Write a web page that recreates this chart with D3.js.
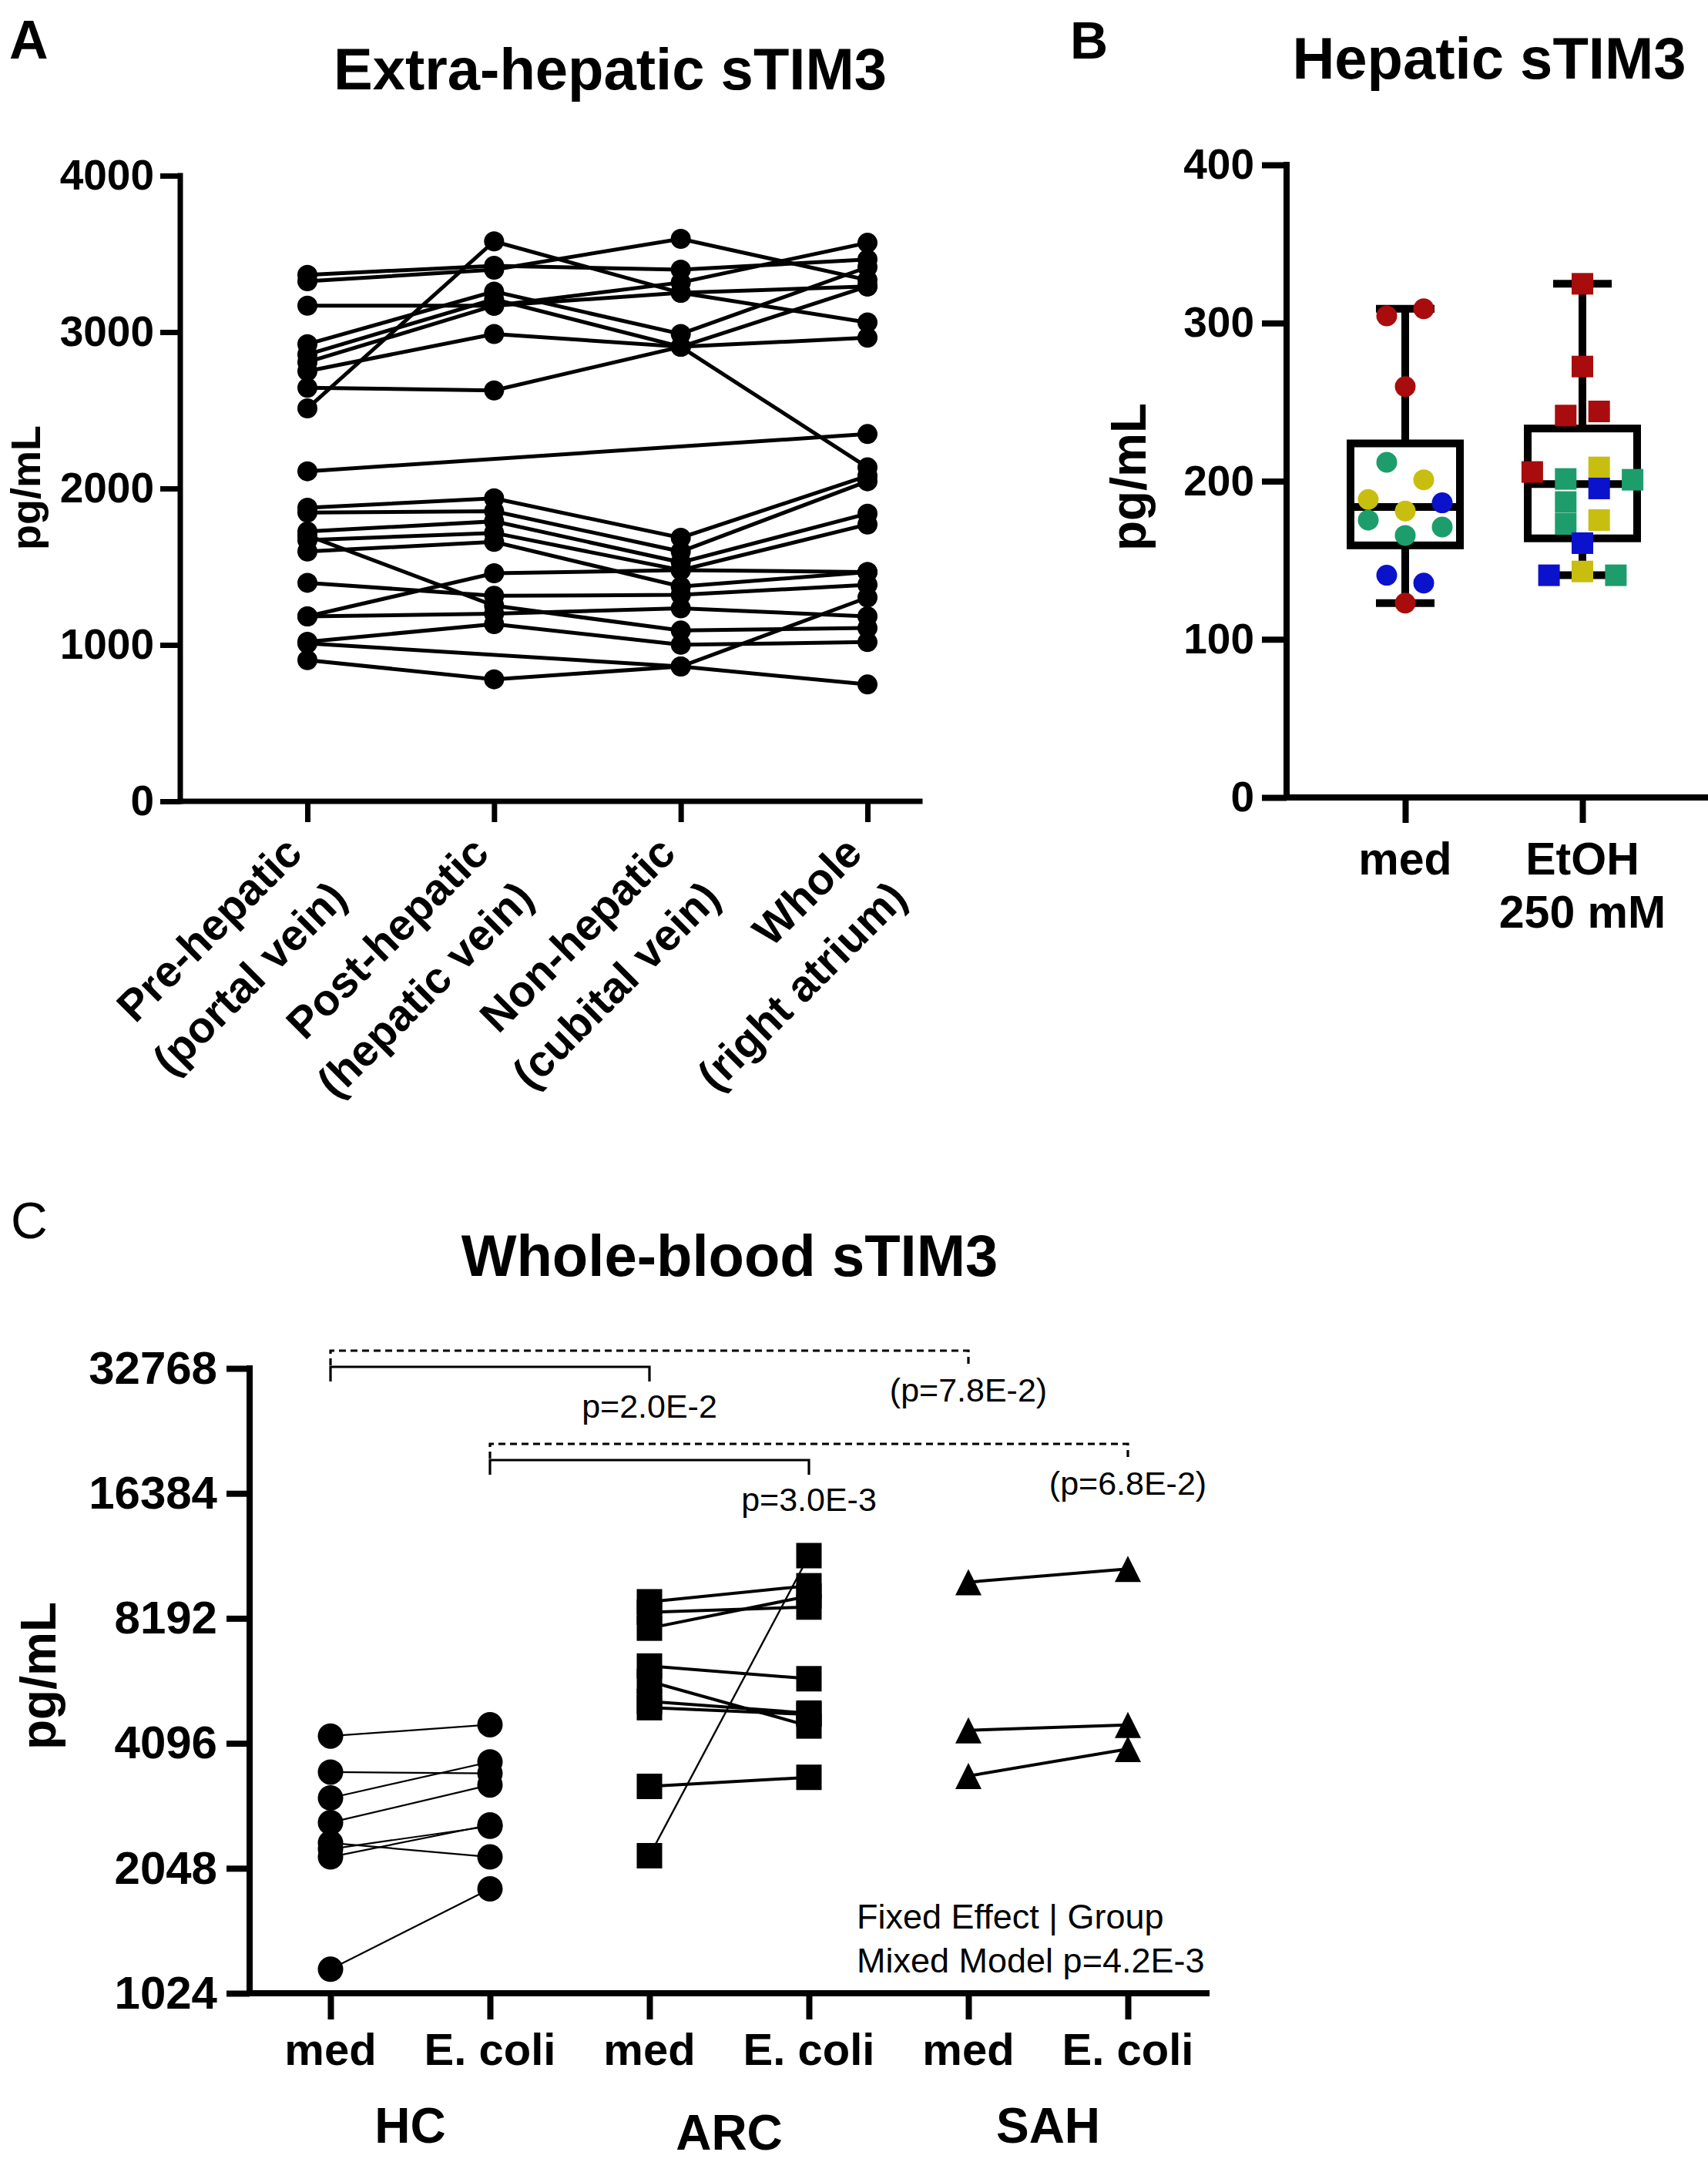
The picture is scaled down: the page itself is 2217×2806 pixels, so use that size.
<!DOCTYPE html>
<html>
<head>
<meta charset="utf-8">
<script src="https://cdn.jsdelivr.net/npm/d3@7"></script>
<style>
  body { margin: 0; background: #fff; }
  svg { display: block; font-family: Arial, "Liberation Sans", sans-serif; }
</style>
</head>
<body>
<svg id="fig" width="2217" height="2806"></svg>
<script>
// ---- Panel A data: extra-hepatic sTIM3 per patient, 4 sampling sites (null = not measured)
const siteNames = [["Pre-hepatic", "(portal vein)"], ["Post-hepatic", "(hepatic vein)"],
                   ["Non-hepatic", "(cubital vein)"], ["Whole", "(right atrium)"]];
const extraTicks = [0, 1000, 2000, 3000, 4000];
const extraHepatic = [
  [3366, 3424, 3399, 3464],
  [3325, 3399, 3596, 3333],
  [2512, 3580, 3251, 3062],
  [3169, 3169, 3317, 3571],
  [2923, 3259, 2988, 3415],
  [2857, 3210, 2906, 2135],
  [2808, 3169, 3251, 3292],
  [2750, 2988, 2906, 2964],
  [2644, 2627, 2906, 3292],
  [2110, null, null, 2348],
  [1877, 1937, 1685, 2081],
  [1846, 1855, 1597, 2046],
  [1725, 1790, 1528, 1839],
  [1670, 1716, 1478, 1770],
  [1597, 1659, 1373, 1466],
  [1700, 1251, 1092, 1108],
  [1397, 1314, 1320, 1384],
  [1182, 1458, 1478, 1466],
  [1182, 1200, 1234, 1182],
  [1020, 1133, 1001, 1018],
  [1010, null, 862, 747],
  [903, 780, 862, 1303]
];

// ---- Panel B data: hepatic sTIM3, donor index per value (0 red, 1 yellow, 2 green, 3 blue)
const hepaticGroups = [["med"], ["EtOH", "250 mM"]];
const hepaticTicks = [0, 100, 200, 300, 400];
const medValues = [304.5, 309, 259.8, 211.9, 200.9, 188.4, 181.1, 186.3, 175.4, 165.7, 171, 140.5, 135.6, 122.9];
const medDonor  = [0, 0, 0, 2, 1, 1, 1, 3, 2, 2, 2, 3, 3, 0];
const etohValues = [324.8, 272.5, 241.5, 244.1, 205.8, 201.4, 208.7, 200.9, 186.8, 195.4, 173, 175.4, 160.8, 140.5, 142.9, 140.5];
const etohDonor  = [0, 0, 0, 0, 0, 2, 1, 2, 2, 3, 2, 1, 3, 3, 1, 2];

// ---- Panel C data: whole-blood sTIM3, [med, E. coli] pairs
const wbConditions = ["med", "E. coli"];
const wbGroups = ["HC", "ARC", "SAH"];
const wbTicks = [1024, 2048, 4096, 8192, 16384, 32768];
const hcPairs  = [[4264, 4542], [3492, 3467], [3025, 3694], [2640, 3251], [2358, 2181], [2279, 2586], [2181, 2605], [1170, 1827]];
const arcPairs = [[8979, 9814], [8473, 8721], [7758, 9271], [6288, 5860], [5773, 4509], [5169, 4843], [4992, 4808], [3226, 3392], [2196, 11600]];
const sahPairs = [[10013, 10780], [4401, 4536], [3418, 3970]];
const comparisons = [
  { a: 0, b: 2, label: "p=2.0E-2", dashed: false, level: 0 },
  { a: 0, b: 4, label: "(p=7.8E-2)", dashed: true, level: 0 },
  { a: 1, b: 3, label: "p=3.0E-3", dashed: false, level: 1 },
  { a: 1, b: 5, label: "(p=6.8E-2)", dashed: true, level: 1 }
];
const modelNote = ["Fixed Effect | Group", "Mixed Model p=4.2E-3"];

const FONT = 'Arial, "Liberation Sans", sans-serif';
const donorColors = ["#a80c0c", "#c8be10", "#1d9d6c", "#0b12cc"];

const svg = d3.select("#fig");

function label(g, x, y, txt, size, opts = {}) {
  return g.append("text")
    .attr("x", x).attr("y", y)
    .attr("font-family", FONT)
    .attr("font-size", size)
    .attr("font-weight", opts.weight || "bold")
    .attr("text-anchor", opts.anchor || "start")
    .attr("fill", "#000")
    .text(txt);
}

function styleAxis(g, width, fontSize) {
  g.attr("font-family", FONT);
  g.select(".domain").remove();
  g.selectAll(".tick line").attr("stroke", "#000").attr("stroke-width", width);
  g.selectAll(".tick text").attr("fill", "#000").attr("font-size", fontSize)
    .attr("font-weight", "bold").attr("font-family", FONT);
}

function axisLine(g, x1, y1, x2, y2, w) {
  g.append("line").attr("x1", x1).attr("y1", y1).attr("x2", x2).attr("y2", y2)
    .attr("stroke", "#000").attr("stroke-width", w).attr("stroke-linecap", "square");
}

// GraphPad style quartiles ((n+1)p)
function q(sorted, p) {
  const pos = (sorted.length + 1) * p;
  const lo = Math.floor(pos), t = pos - lo;
  const a = sorted[Math.max(0, lo - 1)], b = sorted[Math.min(sorted.length - 1, lo)];
  return a + t * (b - a);
}

// rows of nearby values get spread out sideways, in data order
function swarm(values, y, rowPx, step) {
  const order = d3.range(values.length).sort((a, b) => values[b] - values[a]);
  const off = new Array(values.length).fill(0);
  let k = 0;
  while (k < order.length) {
    const y0 = y(values[order[k]]);
    const row = [];
    while (k < order.length && Math.abs(y(values[order[k]]) - y0) < rowPx) { row.push(order[k]); k++; }
    row.sort((a, b) => a - b);
    row.forEach((j, r) => { off[j] = (r - (row.length - 1) / 2) * 2 * step; });
  }
  return off;
}

// ================= Panel A =================
const gA = svg.append("g");
const xA = d3.scalePoint().domain(d3.range(siteNames.length)).range([399, 1126]);
const yA = d3.scaleLinear().domain([0, 4000]).range([1040, 228]);

label(gA, 12, 76, "A", 70);
label(gA, 792, 116, "Extra-hepatic sTIM3", 76, { anchor: "middle" });

const axAy = gA.append("g").attr("transform", "translate(234,0)")
  .call(d3.axisLeft(yA).tickValues(extraTicks).tickFormat(d3.format("d")).tickSize(26).tickPadding(8).tickSizeOuter(0));
styleAxis(axAy, 7, 55);
const axAx = gA.append("g").attr("transform", "translate(0,1040)")
  .call(d3.axisBottom(xA).tickSize(27).tickFormat("").tickSizeOuter(0));
styleAxis(axAx, 7, 55);
axisLine(gA, 234, 228, 234, 1040, 7);
axisLine(gA, 234, 1040, 1194, 1040, 7);

gA.append("text").attr("transform", "translate(52,633) rotate(-90)").attr("font-family", FONT)
  .attr("text-anchor", "middle").attr("font-size", 54).attr("font-weight", "bold").text("pg/mL");

siteNames.forEach((lines, i) => {
  const t = gA.append("g").attr("transform", `translate(${xA(i) - 4},1110) rotate(-45)`);
  lines.forEach((s, k) => {
    t.append("text").attr("x", 0).attr("y", k * 82).attr("text-anchor", "end").attr("font-family", FONT)
      .attr("font-size", 57).attr("font-weight", "bold").text(s);
  });
});

const lineA = d3.line().x(d => xA(d.i)).y(d => yA(d.v));
const rowsA = extraHepatic.map(r => r.map((v, i) => ({ i, v })).filter(d => d.v != null));
gA.selectAll("path.subj").data(rowsA).join("path").attr("class", "subj")
  .attr("d", lineA).attr("fill", "none").attr("stroke", "#000").attr("stroke-width", 5);
gA.selectAll("circle").data(rowsA.flat()).join("circle")
  .attr("cx", d => xA(d.i)).attr("cy", d => yA(d.v)).attr("r", 13).attr("fill", "#000");

// ================= Panel B =================
const gB = svg.append("g");
const xB = d3.scalePoint().domain(d3.range(hepaticGroups.length)).range([1824, 2054]);
const yB = d3.scaleLinear().domain([0, 400]).range([1035, 214]);

label(gB, 1389, 76, "B", 68);
label(gB, 1933, 102, "Hepatic sTIM3", 76, { anchor: "middle" });

const axBy = gB.append("g").attr("transform", "translate(1670,0)")
  .call(d3.axisLeft(yB).tickValues(hepaticTicks).tickSize(32).tickPadding(10).tickSizeOuter(0));
styleAxis(axBy, 8, 55);
const axBx = gB.append("g").attr("transform", "translate(0,1035)")
  .call(d3.axisBottom(xB).tickSize(33).tickFormat("").tickSizeOuter(0));
styleAxis(axBx, 8, 55);
axisLine(gB, 1670, 214, 1670, 1035, 8);
axisLine(gB, 1670, 1035, 2217, 1035, 8);

gB.append("text").attr("transform", "translate(1487,619) rotate(-90)").attr("font-family", FONT)
  .attr("text-anchor", "middle").attr("font-size", 64).attr("font-weight", "bold").text("pg/mL");

hepaticGroups.forEach((lines, i) => {
  lines.forEach((s, k) => label(gB, xB(i), 1135 + k * 69, s, 59, { anchor: "middle" }));
});

const seriesB = [
  { values: medValues, donor: medDonor, shape: "circle", step: 24 },
  { values: etohValues, donor: etohDonor, shape: "square", step: 21.7 }
];
seriesB.forEach((s, i) => {
  const cx = xB(i);
  const sorted = s.values.slice().sort(d3.ascending);
  const mn = sorted[0], mx = sorted[sorted.length - 1];
  const q1 = q(sorted, 0.25), md = q(sorted, 0.5), q3 = q(sorted, 0.75);
  const box = gB.append("g").attr("stroke", "#000").attr("stroke-width", 10).attr("fill", "none");
  box.append("line").attr("x1", cx).attr("x2", cx).attr("y1", yB(mx)).attr("y2", yB(q3));
  box.append("line").attr("x1", cx).attr("x2", cx).attr("y1", yB(q1)).attr("y2", yB(mn));
  box.append("line").attr("x1", cx - 38).attr("x2", cx + 38).attr("y1", yB(mx)).attr("y2", yB(mx));
  box.append("line").attr("x1", cx - 38).attr("x2", cx + 38).attr("y1", yB(mn)).attr("y2", yB(mn));
  box.append("rect").attr("x", cx - 71).attr("width", 142)
    .attr("y", yB(q3)).attr("height", yB(q1) - yB(q3)).attr("fill", "#fff");
  box.append("line").attr("x1", cx - 71).attr("x2", cx + 71).attr("y1", yB(md)).attr("y2", yB(md));

  const off = swarm(s.values, yB, 24, s.step);
  const pts = s.values.map((v, j) => ({ v, c: donorColors[s.donor[j]], dx: off[j] }));
  if (s.shape === "circle") {
    gB.append("g").selectAll("circle").data(pts).join("circle")
      .attr("cx", d => cx + d.dx).attr("cy", d => yB(d.v)).attr("r", 13.5).attr("fill", d => d.c);
  } else {
    gB.append("g").selectAll("rect").data(pts).join("rect")
      .attr("x", d => cx + d.dx - 14).attr("y", d => yB(d.v) - 14)
      .attr("width", 28).attr("height", 28).attr("fill", d => d.c);
  }
});

// ================= Panel C =================
const gC = svg.append("g");
const nCond = wbGroups.length * wbConditions.length;
const xC = d3.scalePoint().domain(d3.range(nCond)).range([429, 1464]);
const yC = d3.scaleLog().base(2).domain([1024, 32768]).range([2587, 1776]);

label(gC, 14, 1607, "C", 66, { weight: "normal" });
label(gC, 947, 1656, "Whole-blood sTIM3", 76, { anchor: "middle" });

const axCy = gC.append("g").attr("transform", "translate(324,0)")
  .call(d3.axisLeft(yC).tickValues(wbTicks).tickFormat(d3.format("d")).tickSize(30).tickPadding(12).tickSizeOuter(0));
styleAxis(axCy, 8, 60);
const axCx = gC.append("g").attr("transform", "translate(0,2587)")
  .call(d3.axisBottom(xC).tickSize(34).tickFormat("").tickSizeOuter(0));
styleAxis(axCx, 8, 60);
axisLine(gC, 324, 1776, 324, 2587, 8);
axisLine(gC, 324, 2587, 1566, 2587, 8);

gC.append("text").attr("transform", "translate(72,2175) rotate(-90)").attr("font-family", FONT)
  .attr("text-anchor", "middle").attr("font-size", 64).attr("font-weight", "bold").text("pg/mL");

d3.range(nCond).forEach(i => label(gC, xC(i), 2680, wbConditions[i % 2], 58, { anchor: "middle" }));
wbGroups.forEach((g, k) => {
  const cx = (xC(2 * k) + xC(2 * k + 1)) / 2;
  label(gC, cx, k === 1 ? 2790 : 2781, g, 64, { anchor: "middle" });
});

// significance brackets
comparisons.forEach(c => {
  const ySolid = yC(32768) - 2 + c.level * 121;
  const yb = c.dashed ? ySolid - 21 : ySolid;
  const x1 = xC(c.a), x2 = xC(c.b);
  gC.append("path")
    .attr("d", `M${x1},${yb + 19}V${yb}H${x2}V${yb + 19}`)
    .attr("fill", "none").attr("stroke", "#000").attr("stroke-width", 3.2)
    .attr("stroke-dasharray", c.dashed ? "9,6" : null);
  label(gC, x2, yb + 66, c.label, 43, { anchor: "middle", weight: "normal" });
});

modelNote.forEach((s, k) => label(gC, 1112, 2503 + k * 57, s, 45, { weight: "normal" }));

const seriesC = [
  { pairs: hcPairs, shape: "circle", width: () => 2.2 },
  { pairs: arcPairs, shape: "square", width: j => (j === arcPairs.length - 1 ? 2.4 : 4) },
  { pairs: sahPairs, shape: "triangle", width: () => 4 }
];
seriesC.forEach((s, k) => {
  const xa = xC(2 * k), xb = xC(2 * k + 1);
  s.pairs.forEach((p, j) => {
    gC.append("line").attr("x1", xa).attr("y1", yC(p[0])).attr("x2", xb).attr("y2", yC(p[1]))
      .attr("stroke", "#000").attr("stroke-width", s.width(j));
  });
  const pts = s.pairs.flatMap(p => [{ x: xa, v: p[0] }, { x: xb, v: p[1] }]);
  const mg = gC.append("g").attr("fill", "#000");
  if (s.shape === "circle") {
    mg.selectAll("circle").data(pts).join("circle")
      .attr("cx", d => d.x).attr("cy", d => yC(d.v)).attr("r", 16.5);
  } else if (s.shape === "square") {
    mg.selectAll("rect").data(pts).join("rect")
      .attr("x", d => d.x - 16.5).attr("y", d => yC(d.v) - 16.5).attr("width", 33).attr("height", 33);
  } else {
    mg.selectAll("path").data(pts).join("path")
      .attr("d", d => `M${d.x},${yC(d.v) - 17}L${d.x + 17},${yC(d.v) + 17}L${d.x - 17},${yC(d.v) + 17}Z`);
  }
});
</script>
</body>
</html>
